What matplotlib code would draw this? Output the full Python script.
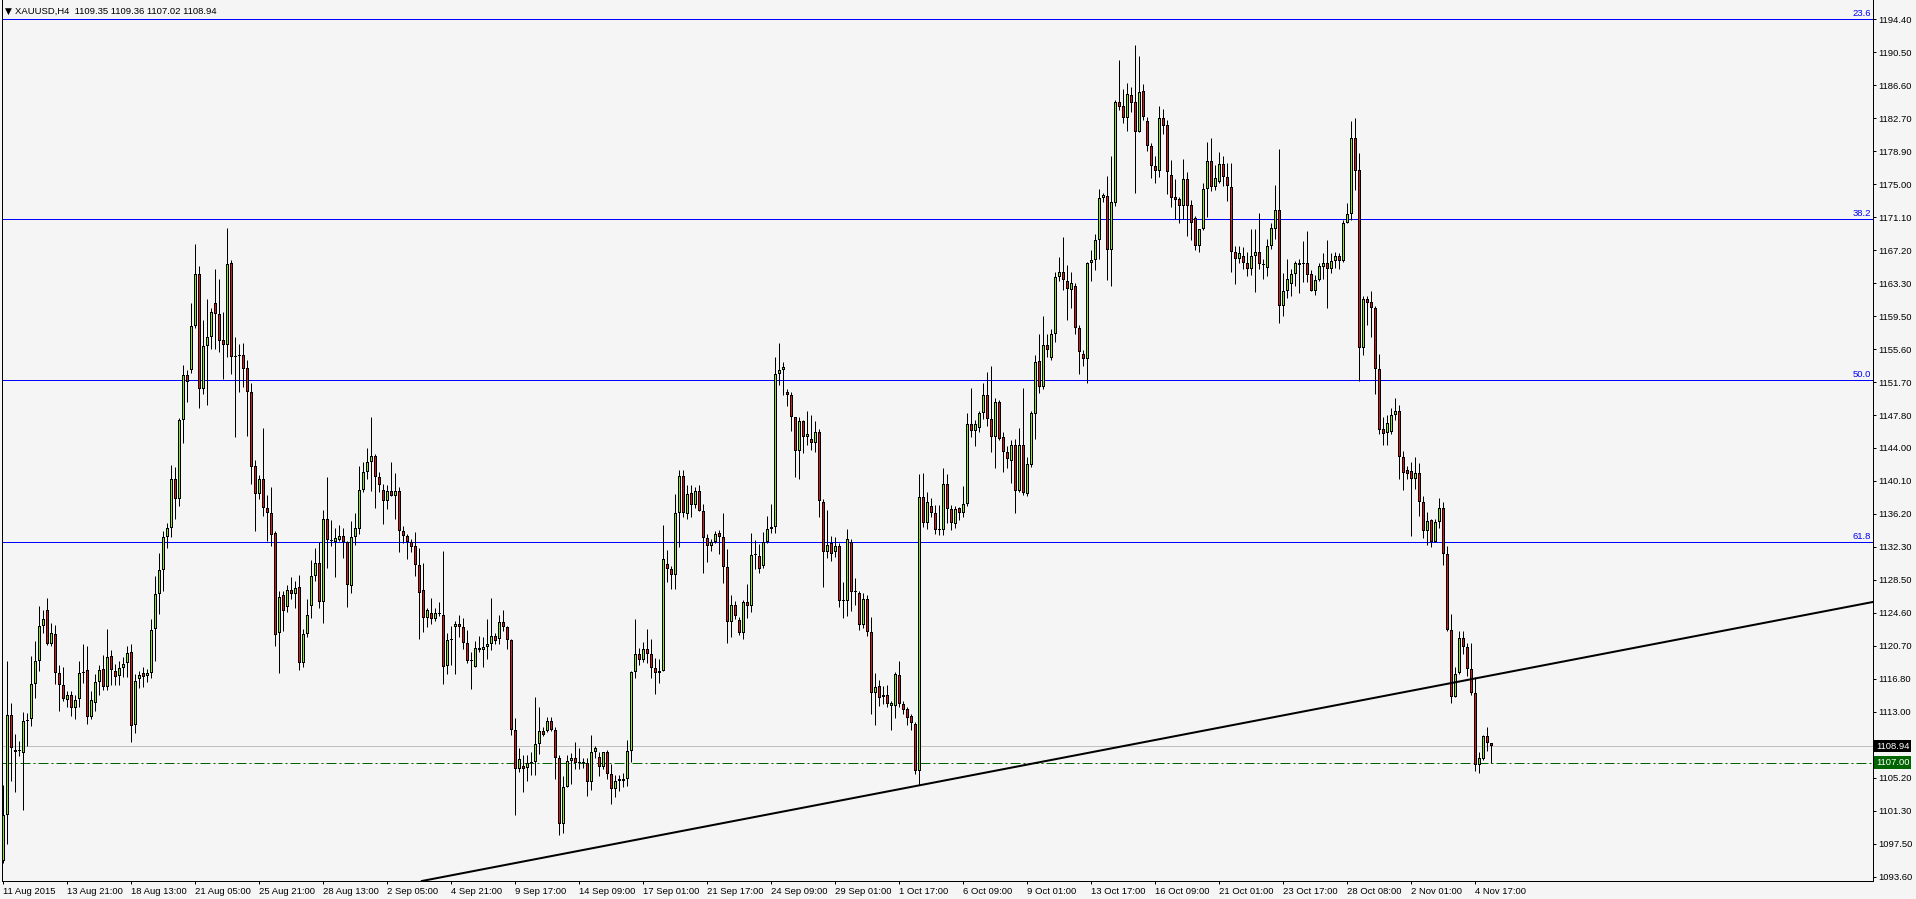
import matplotlib.pyplot as plt
import numpy as np

# XAUUSD H4 candles, 11 Aug 2015 .. 4 Nov 2015
opens = [
    1095.5, 1100.8, 1112.6, 1108.5, 1108.4, 1108.1, 1111.9, 1112.1, 1116.3, 1118.9,
    1123.1, 1125.0, 1121.0, 1122.1, 1117.6, 1116.1, 1114.4, 1115.0, 1113.4, 1114.5,
    1117.6, 1117.9, 1112.4, 1114.0, 1116.5, 1118.0, 1115.9, 1119.5, 1117.8, 1117.2,
    1118.1, 1118.7, 1120.0, 1111.4, 1116.8, 1117.6, 1117.2, 1117.5, 1122.7, 1126.8,
    1129.7, 1133.5, 1134.6, 1140.4, 1138.0, 1147.3, 1152.6, 1153.2, 1158.4, 1164.5,
    1150.9, 1156.0, 1157.0, 1161.1, 1159.7, 1156.7, 1156.1, 1165.8, 1154.7, 1154.8,
    1154.9, 1153.4, 1150.6, 1141.9, 1138.6, 1140.3, 1137.0, 1136.3, 1134.0, 1122.3,
    1126.7, 1125.3, 1127.3, 1126.8, 1127.6, 1118.7, 1122.1, 1125.4, 1129.0, 1130.5,
    1125.9, 1135.7, 1133.2, 1133.0, 1133.2, 1133.7, 1133.0, 1127.8, 1133.5, 1134.5,
    1139.1, 1141.2, 1142.3, 1143.0, 1140.6, 1139.1, 1137.8, 1139.0, 1138.3, 1139.0,
    1134.2, 1133.6, 1133.0, 1132.5, 1130.2, 1127.3, 1124.0, 1124.6, 1123.9, 1124.5,
    1124.4, 1118.4, 1121.4, 1122.9, 1123.3, 1122.9, 1121.1, 1119.0, 1118.2, 1120.3,
    1120.3, 1120.6, 1121.0, 1121.9, 1121.5, 1123.5, 1122.9, 1121.4, 1110.9, 1106.3,
    1106.6, 1106.4, 1107.0, 1107.1, 1109.2, 1110.7, 1110.7, 1111.9, 1110.9, 1107.5,
    1099.8, 1104.1, 1107.2, 1107.6, 1107.1, 1107.0, 1107.0, 1104.7, 1108.3, 1107.7,
    1106.5, 1108.2, 1105.7, 1103.9, 1104.8, 1104.8, 1105.1, 1108.4, 1117.7, 1119.8,
    1119.1, 1120.4, 1119.8, 1118.1, 1117.5, 1117.8, 1130.4, 1129.8, 1129.1, 1136.3,
    1140.7, 1136.2, 1138.7, 1137.3, 1139.0, 1136.6, 1133.4, 1132.5, 1133.0, 1134.0,
    1133.5, 1130.0, 1123.5, 1125.5, 1123.8, 1122.2, 1125.9, 1125.4, 1131.4, 1131.3,
    1130.1, 1132.9, 1134.5, 1134.7, 1152.7, 1153.2, 1150.6, 1150.2, 1147.6, 1143.6,
    1147.2, 1145.3, 1145.0, 1144.6, 1145.9, 1137.7, 1131.8, 1132.8, 1131.8, 1132.5,
    1126.0, 1126.0, 1132.9, 1127.1, 1127.0, 1123.2, 1126.3, 1122.4, 1115.2, 1116.0,
    1114.7, 1114.9, 1113.7, 1113.7, 1117.3, 1113.9, 1113.3, 1112.5, 1111.6, 1106.0,
    1138.2, 1135.2, 1137.2, 1136.4, 1134.5, 1134.4, 1139.8, 1136.8, 1135.1, 1136.9,
    1136.4, 1137.4, 1146.8, 1146.0, 1146.4, 1148.1, 1150.2, 1147.4, 1145.3, 1149.4,
    1145.3, 1143.5, 1142.5, 1144.3, 1139.0, 1144.3, 1138.6, 1142.0, 1148.0, 1154.2,
    1151.2, 1156.1, 1154.6, 1157.4, 1164.1, 1164.7, 1163.6, 1162.6, 1163.1, 1158.1,
    1155.1, 1154.5, 1165.7, 1166.1, 1168.4, 1173.4, 1173.6, 1167.3, 1172.8, 1184.7,
    1184.2, 1182.8, 1185.5, 1184.7, 1181.2, 1186.0, 1182.4, 1179.5, 1177.2, 1176.6,
    1182.8, 1182.0, 1176.1, 1173.5, 1173.3, 1172.4, 1175.6, 1172.6, 1171.0, 1167.7,
    1169.7, 1174.4, 1177.7, 1174.7, 1175.3, 1177.4, 1175.9, 1174.7, 1167.0, 1166.2,
    1166.6, 1165.8, 1165.0, 1166.6, 1167.1, 1165.5, 1165.2, 1167.8, 1169.7, 1172.0,
    1160.7, 1162.4, 1163.3, 1164.5, 1165.5, 1165.6, 1165.7, 1164.4, 1162.4, 1163.7,
    1165.3, 1165.7, 1165.0, 1166.0, 1166.6, 1166.0, 1170.5, 1171.5, 1180.5, 1176.7,
    1155.7, 1161.5, 1161.2, 1160.4, 1153.3, 1146.2, 1145.8, 1145.9, 1147.9, 1148.3,
    1142.9, 1141.4, 1141.3, 1140.3, 1141.1, 1137.7, 1134.2, 1135.5, 1133.0, 1135.3,
    1137.0, 1131.5, 1122.6, 1114.7, 1117.6, 1121.7, 1120.6, 1118.0, 1115.2, 1106.7,
    1107.4, 1110.1, 1109.35]
highs = [
    1104.4, 1119.0, 1114.0, 1110.4, 1109.6, 1113.0, 1112.9, 1119.6, 1121.3, 1125.4,
    1124.9, 1126.4, 1123.4, 1123.2, 1118.5, 1118.2, 1115.4, 1115.4, 1114.9, 1119.0,
    1120.9, 1120.7, 1115.4, 1117.4, 1118.5, 1119.7, 1122.7, 1120.2, 1118.6, 1118.9,
    1119.4, 1120.7, 1120.9, 1117.4, 1117.8, 1118.2, 1118.0, 1123.9, 1129.0, 1131.6,
    1134.2, 1135.2, 1142.0, 1141.8, 1147.5, 1153.8, 1153.2, 1161.0, 1168.0, 1165.4,
    1159.1, 1161.5, 1160.5, 1165.0, 1163.9, 1160.0, 1169.9, 1166.1, 1157.0, 1156.2,
    1156.3, 1154.3, 1151.6, 1142.6, 1140.8, 1146.3, 1138.5, 1139.4, 1134.2, 1127.2,
    1127.2, 1127.9, 1128.8, 1128.4, 1129.1, 1122.7, 1126.2, 1130.8, 1132.2, 1132.9,
    1136.7, 1140.6, 1135.5, 1134.6, 1134.9, 1134.6, 1133.1, 1135.4, 1136.4, 1141.9,
    1142.3, 1144.0, 1147.6, 1143.3, 1141.2, 1139.8, 1139.7, 1142.3, 1141.1, 1139.4,
    1134.8, 1133.9, 1133.3, 1134.1, 1132.2, 1130.5, 1125.2, 1126.4, 1125.2, 1125.9,
    1131.9, 1122.3, 1123.1, 1123.6, 1124.4, 1124.0, 1122.6, 1120.0, 1121.3, 1121.9,
    1121.8, 1123.9, 1126.4, 1122.3, 1124.4, 1125.0, 1123.1, 1121.5, 1112.2, 1108.7,
    1107.9, 1107.9, 1108.2, 1114.7, 1113.5, 1111.2, 1112.4, 1112.4, 1111.2, 1107.9,
    1105.4, 1107.9, 1108.1, 1109.4, 1108.7, 1107.5, 1107.6, 1110.2, 1109.0, 1108.2,
    1108.3, 1108.5, 1106.9, 1105.5, 1105.6, 1105.8, 1109.7, 1117.8, 1123.9, 1120.5,
    1121.2, 1122.7, 1121.5, 1119.3, 1119.2, 1135.0, 1132.0, 1130.1, 1138.6, 1141.4,
    1141.4, 1139.6, 1139.6, 1139.4, 1139.7, 1137.4, 1133.9, 1133.3, 1134.2, 1134.3,
    1136.3, 1132.1, 1126.7, 1126.0, 1124.1, 1126.1, 1128.0, 1134.0, 1133.2, 1132.7,
    1134.1, 1136.0, 1137.4, 1154.7, 1156.4, 1154.1, 1150.9, 1150.6, 1147.7, 1147.6,
    1147.3, 1148.4, 1147.9, 1147.2, 1146.2, 1138.0, 1136.7, 1133.6, 1133.5, 1132.8,
    1128.2, 1134.5, 1133.3, 1128.7, 1127.2, 1126.9, 1126.7, 1124.1, 1117.6, 1116.7,
    1116.0, 1116.1, 1114.3, 1117.7, 1119.0, 1114.2, 1113.6, 1112.7, 1111.8, 1141.0,
    1141.1, 1138.8, 1138.1, 1137.3, 1137.3, 1141.7, 1140.9, 1137.3, 1137.2, 1137.1,
    1139.5, 1148.1, 1151.0, 1147.3, 1148.4, 1151.6, 1152.9, 1153.6, 1149.9, 1149.6,
    1145.9, 1144.2, 1144.9, 1145.0, 1146.3, 1151.0, 1142.9, 1148.3, 1154.9, 1157.4,
    1159.5, 1157.4, 1158.0, 1164.7, 1166.4, 1168.8, 1165.5, 1164.7, 1163.4, 1158.5,
    1155.5, 1165.9, 1167.3, 1169.1, 1174.4, 1174.0, 1176.0, 1178.3, 1184.9, 1189.6,
    1186.2, 1186.9, 1186.5, 1191.4, 1190.1, 1186.8, 1182.9, 1179.8, 1178.3, 1184.2,
    1183.8, 1182.6, 1177.9, 1175.6, 1173.5, 1178.0, 1176.5, 1173.2, 1171.3, 1169.8,
    1175.1, 1180.0, 1180.5, 1177.3, 1178.8, 1178.3, 1177.5, 1177.5, 1167.8, 1167.8,
    1167.6, 1167.0, 1169.7, 1169.7, 1171.6, 1166.2, 1168.6, 1170.5, 1174.9, 1179.2,
    1164.6, 1166.2, 1165.1, 1166.0, 1166.2, 1168.3, 1169.5, 1164.9, 1164.3, 1165.8,
    1166.9, 1168.5, 1166.9, 1167.0, 1166.9, 1170.8, 1172.8, 1182.5, 1182.8, 1178.7,
    1161.9, 1161.9, 1162.4, 1160.7, 1155.0, 1147.6, 1147.9, 1148.7, 1149.9, 1149.0,
    1143.6, 1141.9, 1142.4, 1142.9, 1142.2, 1138.4, 1136.5, 1135.6, 1135.7, 1138.1,
    1137.7, 1132.5, 1124.5, 1118.3, 1122.5, 1122.5, 1121.1, 1121.1, 1117.1, 1108.3,
    1110.3, 1111.2, 1109.36]
lows = [
    1095.2, 1097.4, 1104.8, 1103.6, 1107.8, 1101.4, 1109.0, 1111.3, 1114.6, 1117.8,
    1122.3, 1120.8, 1120.7, 1116.3, 1113.1, 1114.2, 1113.5, 1112.5, 1112.1, 1113.6,
    1116.4, 1111.5, 1112.1, 1113.1, 1115.0, 1115.6, 1115.6, 1116.1, 1116.1, 1116.1,
    1117.1, 1117.1, 1109.4, 1110.5, 1115.8, 1115.9, 1116.5, 1117.0, 1118.9, 1124.5,
    1127.2, 1132.2, 1133.5, 1135.7, 1137.2, 1144.6, 1149.4, 1152.8, 1158.1, 1148.7,
    1150.3, 1149.0, 1155.6, 1155.6, 1155.3, 1152.1, 1154.7, 1152.7, 1145.3, 1150.6,
    1151.2, 1145.4, 1139.8, 1134.2, 1138.0, 1136.0, 1133.1, 1132.5, 1120.7, 1117.5,
    1122.5, 1124.7, 1126.2, 1125.2, 1117.9, 1118.2, 1121.8, 1124.0, 1128.4, 1125.2,
    1123.4, 1129.9, 1132.5, 1128.8, 1133.1, 1131.1, 1125.3, 1127.0, 1132.6, 1133.9,
    1138.8, 1140.4, 1139.0, 1136.9, 1138.8, 1135.1, 1136.8, 1138.3, 1135.7, 1131.8,
    1132.8, 1131.0, 1131.8, 1128.9, 1121.6, 1122.4, 1123.0, 1123.3, 1123.7, 1124.2,
    1116.3, 1117.4, 1118.5, 1117.4, 1121.8, 1120.4, 1118.7, 1115.7, 1118.2, 1120.0,
    1118.3, 1119.2, 1120.2, 1121.0, 1120.9, 1122.5, 1120.4, 1110.3, 1100.9, 1105.9,
    1103.5, 1104.9, 1105.5, 1105.5, 1108.0, 1110.1, 1110.6, 1110.7, 1105.1, 1098.5,
    1098.7, 1104.1, 1104.5, 1106.3, 1106.2, 1106.4, 1103.1, 1103.8, 1107.6, 1105.4,
    1106.2, 1105.1, 1102.2, 1103.0, 1103.7, 1104.1, 1104.3, 1107.1, 1116.9, 1118.5,
    1118.8, 1118.7, 1116.9, 1115.1, 1116.4, 1117.8, 1128.3, 1127.4, 1127.4, 1132.3,
    1135.9, 1135.7, 1135.9, 1136.9, 1136.6, 1129.3, 1130.6, 1131.9, 1132.8, 1131.5,
    1128.1, 1121.1, 1121.8, 1123.9, 1122.0, 1121.5, 1124.0, 1124.7, 1129.8, 1129.3,
    1129.9, 1132.8, 1134.0, 1134.0, 1151.4, 1150.2, 1148.9, 1146.0, 1140.6, 1140.4,
    1143.4, 1144.3, 1143.8, 1143.5, 1135.9, 1127.7, 1131.1, 1130.7, 1131.2, 1125.3,
    1124.0, 1124.3, 1124.8, 1125.5, 1122.6, 1122.8, 1121.9, 1112.7, 1111.4, 1113.7,
    1113.9, 1113.6, 1110.9, 1112.3, 1113.6, 1112.7, 1111.4, 1110.9, 1105.7, 1104.4,
    1134.7, 1134.5, 1135.9, 1133.9, 1133.8, 1133.8, 1135.2, 1134.4, 1134.6, 1135.5,
    1135.9, 1137.2, 1145.3, 1144.2, 1145.9, 1147.4, 1146.6, 1143.5, 1141.6, 1144.9,
    1141.2, 1141.6, 1139.9, 1136.3, 1138.8, 1138.5, 1138.3, 1141.8, 1145.1, 1150.5,
    1150.9, 1154.7, 1154.4, 1156.5, 1163.6, 1162.6, 1159.1, 1160.5, 1157.4, 1152.7,
    1153.6, 1151.6, 1163.6, 1164.9, 1166.2, 1172.9, 1163.8, 1163.0, 1172.5, 1183.7,
    1182.2, 1181.3, 1183.5, 1174.0, 1181.2, 1182.6, 1178.9, 1175.8, 1175.1, 1175.9,
    1180.9, 1173.9, 1172.3, 1170.9, 1170.5, 1170.9, 1168.9, 1168.4, 1167.3, 1167.1,
    1169.6, 1171.1, 1174.2, 1174.3, 1175.2, 1174.8, 1173.0, 1164.7, 1163.3, 1165.8,
    1165.0, 1164.2, 1164.3, 1162.3, 1165.0, 1163.9, 1164.2, 1167.4, 1168.6, 1158.7,
    1159.5, 1161.6, 1161.9, 1163.0, 1162.2, 1163.5, 1163.5, 1162.4, 1162.0, 1163.6,
    1163.9, 1160.4, 1164.6, 1165.2, 1165.0, 1165.9, 1170.5, 1170.8, 1174.3, 1151.9,
    1154.9, 1158.5, 1157.0, 1150.3, 1145.7, 1144.3, 1144.3, 1145.7, 1147.3, 1140.3,
    1139.1, 1140.4, 1133.6, 1139.2, 1136.0, 1133.4, 1132.6, 1132.3, 1132.9, 1134.6,
    1130.3, 1122.5, 1114.0, 1114.7, 1117.4, 1119.8, 1117.2, 1114.9, 1106.0, 1105.8,
    1107.3, 1108.4, 1107.02]
closes = [
    1100.9, 1112.6, 1108.7, 1108.2, 1108.4, 1111.9, 1112.0, 1116.3, 1118.9, 1123.1,
    1123.9, 1121.0, 1122.2, 1117.5, 1116.1, 1114.5, 1114.9, 1113.4, 1114.4, 1117.6,
    1117.7, 1112.4, 1114.4, 1116.5, 1117.9, 1115.9, 1119.4, 1117.9, 1117.1, 1118.1,
    1118.6, 1119.9, 1111.3, 1116.6, 1117.3, 1117.1, 1117.6, 1122.6, 1126.8, 1129.7,
    1133.5, 1134.6, 1140.4, 1138.0, 1147.3, 1152.6, 1151.7, 1158.4, 1164.5, 1150.9,
    1156.0, 1157.0, 1160.0, 1159.7, 1156.6, 1156.1, 1165.6, 1154.7, 1154.8, 1154.9,
    1153.3, 1150.6, 1141.8, 1138.6, 1140.3, 1136.9, 1136.3, 1133.8, 1122.0, 1126.5,
    1124.8, 1127.3, 1126.8, 1127.5, 1118.7, 1122.1, 1124.4, 1129.0, 1130.5, 1125.9,
    1135.7, 1133.2, 1133.1, 1133.4, 1133.7, 1133.0, 1127.9, 1133.5, 1134.6, 1139.1,
    1141.2, 1142.3, 1143.0, 1140.6, 1139.6, 1137.8, 1139.0, 1138.3, 1139.0, 1134.2,
    1133.6, 1133.0, 1132.4, 1130.2, 1127.0, 1124.0, 1124.9, 1123.9, 1124.6, 1124.6,
    1118.3, 1121.4, 1121.5, 1123.3, 1122.9, 1121.1, 1118.9, 1119.0, 1120.5, 1120.5,
    1120.6, 1121.0, 1121.9, 1121.3, 1123.5, 1122.9, 1121.4, 1110.9, 1106.3, 1107.4,
    1106.2, 1107.0, 1107.0, 1109.2, 1110.7, 1110.3, 1111.9, 1110.8, 1107.5, 1099.8,
    1104.1, 1107.2, 1107.6, 1107.0, 1107.0, 1107.0, 1104.7, 1108.3, 1108.7, 1106.5,
    1108.2, 1105.7, 1103.9, 1104.8, 1105.1, 1105.1, 1108.4, 1117.7, 1119.8, 1119.1,
    1120.4, 1119.8, 1118.1, 1117.5, 1117.8, 1131.0, 1129.8, 1129.1, 1136.3, 1140.7,
    1136.3, 1138.6, 1137.3, 1139.0, 1136.6, 1133.4, 1132.5, 1133.0, 1133.9, 1133.5,
    1130.0, 1123.5, 1125.5, 1124.2, 1122.2, 1125.9, 1125.4, 1131.4, 1131.4, 1129.8,
    1132.9, 1134.5, 1134.7, 1152.7, 1153.2, 1153.5, 1150.2, 1147.6, 1143.6, 1147.2,
    1145.3, 1145.6, 1144.6, 1145.9, 1137.8, 1131.8, 1132.6, 1131.5, 1132.5, 1126.0,
    1126.0, 1133.3, 1127.1, 1127.1, 1123.2, 1126.3, 1122.4, 1115.2, 1115.9, 1114.6,
    1115.0, 1113.9, 1114.0, 1117.4, 1113.9, 1113.2, 1112.3, 1111.7, 1106.0, 1138.2,
    1135.2, 1137.7, 1136.4, 1134.4, 1134.3, 1139.8, 1136.8, 1135.2, 1136.8, 1136.4,
    1137.4, 1146.8, 1146.0, 1146.8, 1148.1, 1150.2, 1147.4, 1145.3, 1149.4, 1145.0,
    1143.5, 1142.7, 1144.3, 1139.0, 1144.3, 1138.7, 1142.1, 1148.1, 1154.1, 1151.2,
    1156.1, 1155.5, 1157.4, 1164.1, 1164.7, 1163.7, 1162.7, 1163.4, 1158.1, 1155.3,
    1154.5, 1165.7, 1166.1, 1168.5, 1173.4, 1173.7, 1167.3, 1172.9, 1184.7, 1184.1,
    1182.8, 1185.6, 1184.6, 1181.2, 1185.9, 1182.9, 1179.5, 1177.1, 1176.6, 1182.8,
    1181.9, 1176.4, 1173.4, 1173.2, 1172.4, 1175.6, 1172.4, 1170.4, 1167.7, 1169.7,
    1174.4, 1177.7, 1174.7, 1175.7, 1177.4, 1175.9, 1174.8, 1167.0, 1166.2, 1166.9,
    1165.8, 1165.0, 1166.6, 1167.1, 1165.6, 1165.5, 1167.8, 1169.9, 1172.0, 1160.7,
    1162.4, 1163.9, 1164.5, 1165.7, 1165.8, 1165.6, 1164.3, 1162.5, 1163.7, 1165.4,
    1165.7, 1165.0, 1166.0, 1166.6, 1166.0, 1170.5, 1171.5, 1180.5, 1176.6, 1155.7,
    1161.5, 1161.1, 1160.4, 1153.3, 1146.1, 1145.6, 1146.9, 1147.9, 1148.4, 1142.9,
    1141.1, 1140.9, 1140.3, 1141.1, 1137.7, 1134.2, 1135.4, 1133.0, 1135.3, 1137.0,
    1131.5, 1122.6, 1114.7, 1117.4, 1121.7, 1120.6, 1118.0, 1115.2, 1106.7, 1107.5,
    1110.1, 1109.3, 1108.94]

time_labels = ["11 Aug 2015", "13 Aug 21:00", "18 Aug 13:00", "21 Aug 05:00",
               "25 Aug 21:00", "28 Aug 13:00", "2 Sep 05:00", "4 Sep 21:00",
               "9 Sep 17:00", "14 Sep 09:00", "17 Sep 01:00", "21 Sep 17:00",
               "24 Sep 09:00", "29 Sep 01:00", "1 Oct 17:00", "6 Oct 09:00",
               "9 Oct 01:00", "13 Oct 17:00", "16 Oct 09:00", "21 Oct 01:00",
               "23 Oct 17:00", "28 Oct 08:00", "2 Nov 01:00", "4 Nov 17:00"]
label_step = 16

price_labels = ["1093.60", "1097.50", "1101.30", "1105.20", "", "1113.00", "1116.80",
                "1120.70", "1124.60", "1128.50", "1132.30", "1136.20", "1140.10",
                "1144.00", "1147.80", "1151.70", "1155.60", "1159.50", "1163.30",
                "1167.20", "1171.10", "1175.00", "1178.90", "1182.70", "1186.60",
                "1190.50", "1194.40"]

fib_names = ["23.6", "38.2", "50.0", "61.8"]
fib_levels = [1194.4, 1170.9, 1152.0, 1132.95]
bid_price = 1108.94
alert_price = 1107.00
trend_x = [104.7, 467.4]
trend_y = [1093.1, 1125.9]
header = "XAUUSD,H4  1109.35 1109.36 1107.02 1108.94"

bg = "#f5f5f5"
bull = "#84e81c"
bear = "#d81818"
font = ["Liberation Sans", "DejaVu Sans"]
fs = 6.8

W, H = 1916, 899
PX = 0.72  # one pixel in points
fig = plt.figure(figsize=(W / 100, H / 100), dpi=100)
fig.patch.set_facecolor(bg)
ax = fig.add_axes([2 / W, 18 / H, 1871 / W, 881 / H])
ax.set_facecolor(bg)

ymin, ymax = 1093.09, 1196.67
px_price = (ymax - ymin) / 881

o = np.array(opens)
h = np.array(highs)
l = np.array(lows)
c = np.array(closes)
x = np.arange(len(o))
cols = np.where(c >= o, bull, bear)
body_lo = np.minimum(o, c)
body_h = np.maximum(np.abs(c - o), px_price)

ax.vlines(x, l, h, color="black", lw=PX, zorder=3)
ax.bar(x, body_h, bottom=body_lo, width=0.75, color="black", linewidth=0, zorder=4)
fill_h = body_h - 2 * px_price
big = fill_h > 0
ax.bar(x[big], fill_h[big], bottom=body_lo[big] + px_price, width=0.25,
       color=cols[big], linewidth=0, zorder=5)

for name, lvl in zip(fib_names, fib_levels):
    ax.axhline(lvl, color="#0000ff", lw=PX, zorder=2)
    ax.annotate(name, xy=(1, lvl), xycoords=("axes fraction", "data"),
                xytext=(-1.5, 0.8), textcoords="offset points", ha="right",
                va="bottom", color="#0000ff", fontsize=fs, family=font)

ax.axhline(bid_price, color="#c0c0c0", lw=PX, zorder=2)
ax.axhline(alert_price, color="#006400", lw=PX, zorder=2,
           linestyle=(0, (10, 3, 2, 3)))
ax.axline((trend_x[0], trend_y[0]), (trend_x[1], trend_y[1]),
          color="black", lw=1.45, zorder=6)

ax.set_xlim(-0.375, -0.375 + 1871 / 4)
ax.set_ylim(ymin, ymax)

ax.set_xticks(np.arange(len(time_labels)) * label_step)
ax.set_xticklabels(time_labels, ha="left", fontsize=fs, family=font)
ax.yaxis.tick_right()
ax.set_yticks(np.linspace(1093.6, 1194.4, len(price_labels)))
ax.set_yticklabels(price_labels, fontsize=fs, family=font)
ax.tick_params(axis="both", direction="out", length=2.5, width=PX,
               colors="black", pad=1.5)

for s in ["left", "right", "bottom"]:
    ax.spines[s].set_color("black")
    ax.spines[s].set_linewidth(PX)
ax.spines["top"].set_visible(False)

for price, fc in [(bid_price, "black"), (alert_price, "#006400")]:
    ax.annotate("%.2f" % price, xy=(1, price), xycoords=("axes fraction", "data"),
                xytext=(2.2, 0), textcoords="offset points", ha="left", va="center",
                color="white", fontsize=fs, family=font, zorder=7,
                bbox=dict(boxstyle="square,pad=0.18", fc=fc, ec="none"))

fig.text(5 / W, 1 - 11 / H, "\u25bc", fontsize=6.5, family=["DejaVu Sans"],
         va="center", ha="left")
fig.text(15 / W, 1 - 11 / H, header, fontsize=fs, family=font,
         va="center", ha="left")

fig.savefig("out.png", dpi=100, facecolor=bg)
